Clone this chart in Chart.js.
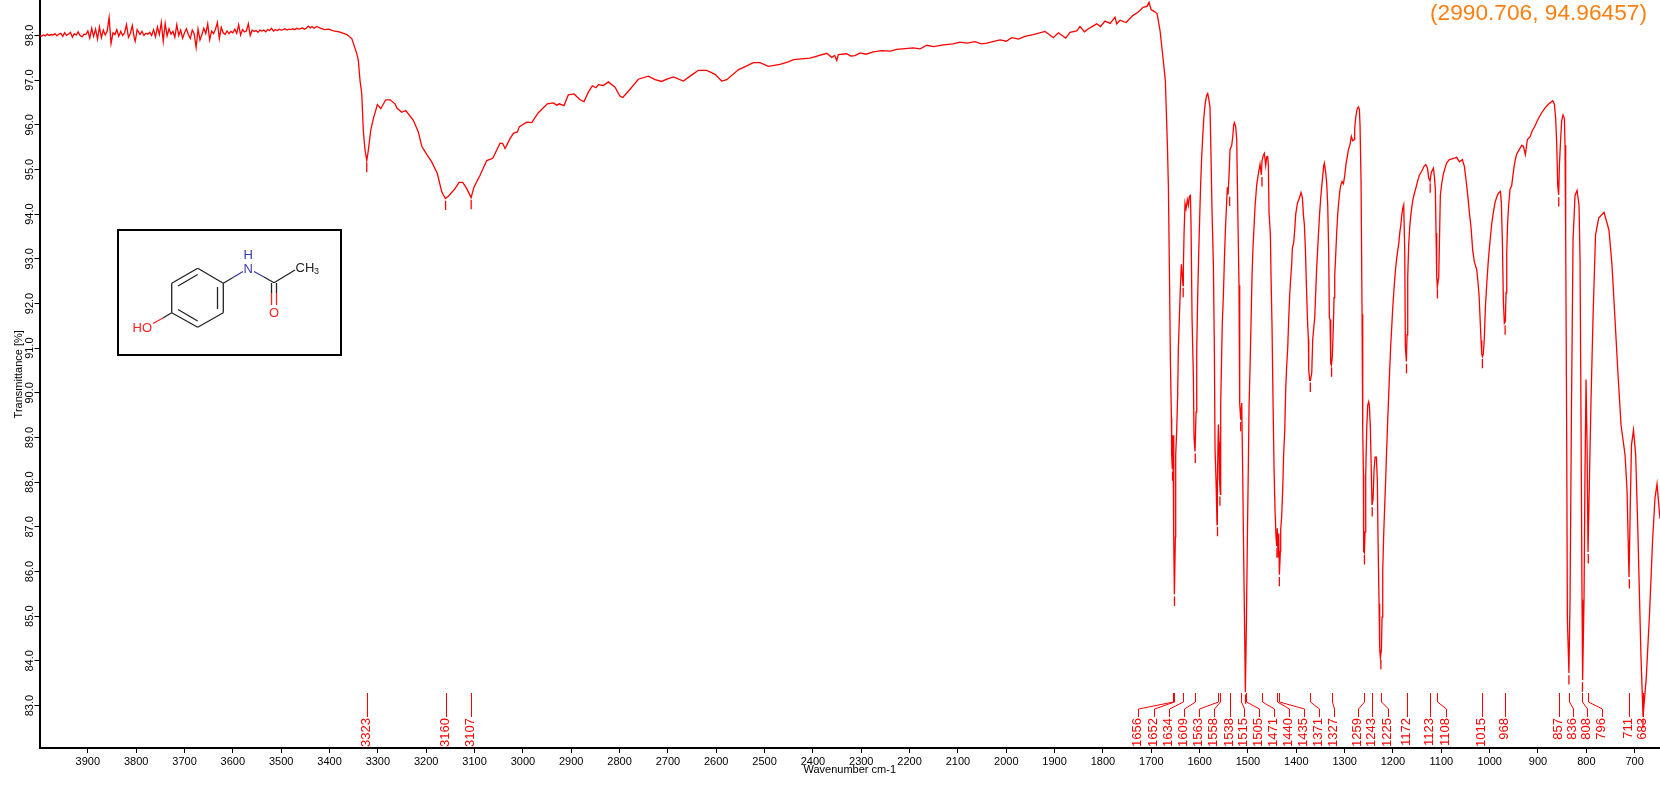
<!DOCTYPE html>
<html>
<head>
<meta charset="utf-8">
<style>html,body{margin:0;padding:0;background:#fff}canvas{display:block}</style>
<script src="https://cdn.jsdelivr.net/npm/chart.js@4"></script>
</head>
<body>
<canvas id="c" width="1660" height="788"></canvas>
<script>
const xTickValues = [3900,3800,3700,3600,3500,3400,3300,3200,3100,3000,2900,2800,2700,2600,2500,2400,2300,2200,2100,2000,1900,1800,1700,1600,1500,1400,1300,1200,1100,1000,900,800,700];
const yTickValues = [83,84,85,86,87,88,89,90,91,92,93,94,95,96,97,98];
const xAxisTitle = "Wavenumber cm-1";
const yAxisTitle = "Transmittance [%]";
const cursorReadout = "(2990.706, 94.96457)";

const noisyRegion = [[4000,98.00],[3996,97.98],[3992,98.01],[3988,97.99],[3984,98.03],[3980,98.00],[3976,98.02],[3972,98.01],[3968,98.04],[3964,97.99],[3960,98.03],[3956,98.05],[3952,97.98],[3948,98.06],[3944,98.00],[3940,98.03],[3936,98.07],[3932,97.96],[3928,98.04],[3924,98.01],[3920,98.08],[3916,98.00],[3912,97.97],[3908,98.03],[3904,98.02],[3900,98.10],[3896,97.94],[3892,98.16],[3888,97.98],[3884,98.14],[3880,97.92],[3876,98.19],[3872,97.95],[3868,98.12],[3864,98.01],[3860,98.10],[3856,98.40],[3852,97.82],[3848,98.06],[3844,98.02],[3840,98.13],[3836,97.98],[3832,98.09],[3828,98.00],[3824,98.06],[3820,98.24],[3816,97.96],[3812,98.05],[3808,98.22],[3804,97.94],[3802,97.87],[3798,98.13],[3792,98.02],[3788,98.09],[3784,98.00],[3780,98.05],[3776,98.03],[3772,98.07],[3768,98.00],[3764,98.13],[3760,97.97],[3756,98.19],[3752,98.02],[3748,98.29],[3744,97.87],[3740,98.27],[3736,97.99],[3732,98.15],[3728,98.03],[3724,98.09],[3720,97.96],[3716,98.24],[3712,98.00],[3708,98.12],[3704,97.94],[3700,98.06],[3696,98.15],[3692,98.02],[3688,97.93],[3684,98.12],[3680,98.04],[3676,97.73],[3672,98.14],[3668,97.90],[3664,98.02],[3660,98.16],[3656,98.04],[3652,98.26],[3648,97.90],[3644,98.10],[3640,98.04],[3636,98.14],[3632,98.29],[3628,97.93],[3624,98.18],[3620,98.06],[3616,98.02],[3612,98.10],[3608,98.04],[3604,98.09],[3600,98.06],[3596,98.14],[3592,98.05],[3588,98.24],[3584,98.01],[3580,98.13],[3576,98.08],[3572,98.10],[3568,98.26],[3564,98.00],[3560,98.12],[3556,98.09],[3552,98.11],[3548,98.07],[3544,98.12],[3540,98.10],[3536,98.12],[3532,98.08],[3528,98.13],[3524,98.11],[3520,98.16],[3516,98.10],[3512,98.13],[3508,98.11],[3504,98.14],[3500,98.12],[3496,98.13],[3492,98.15],[3488,98.12],[3484,98.14],[3480,98.13],[3476,98.15],[3472,98.13],[3468,98.16],[3464,98.14],[3460,98.15],[3456,98.17],[3452,98.14],[3448,98.16],[3444,98.21],[3440,98.17],[3436,98.20],[3432,98.16],[3426,98.20],[3418,98.16],[3410,98.13],[3402,98.14],[3392,98.10],[3380,98.08],[3364,98.02]];

const nhRegion = [[3354,97.93],[3343.7,97.60],[3340.4,97.44],[3336.9,96.99],[3333.4,96.70],[3331.3,96.17],[3330,95.85],[3326.5,95.43],[3323,95.20],[3319.7,95.43],[3314.7,95.88],[3309.3,96.14],[3301,96.45],[3294,96.36],[3283.7,96.56],[3274.8,96.56],[3264.5,96.47],[3261,96.38],[3250.6,96.28],[3242.3,96.32],[3226.6,96.10],[3216.3,95.84],[3209.2,95.52],[3198.9,95.34],[3188.6,95.17],[3177,94.91],[3167.9,94.50],[3160.4,94.35],[3154.2,94.40],[3140.3,94.57],[3132,94.71],[3124.4,94.71],[3116.1,94.57],[3107.2,94.37],[3101,94.61],[3088.6,94.87],[3074.8,95.20],[3062.3,95.25],[3047.2,95.59],[3041.7,95.58],[3036.9,95.47],[3026.6,95.69],[3019.7,95.81],[3011.5,95.84],[3007.3,95.96],[2992,96.06],[2981.7,96.05],[2968,96.27],[2949.4,96.47],[2937,96.49],[2930,96.44],[2924.6,96.47],[2914.9,96.43],[2906,96.67],[2894.2,96.69],[2881.8,96.56],[2873.5,96.52],[2864.6,96.73],[2856.3,96.87],[2848.7,96.83],[2843.9,96.90],[2833.5,96.88],[2823.2,96.96],[2809.4,96.84],[2799,96.64],[2793.4,96.61],[2781.8,96.75],[2761.1,97.02],[2740.5,97.09],[2726.6,97.01],[2712.7,96.97],[2702.4,97.02],[2688.7,97.07],[2668,96.98],[2647.4,97.14],[2637,97.22],[2619.7,97.22],[2602.5,97.13],[2588.6,96.98],[2578.3,97.01]];

const plateauRegion = [[2554.3,97.23],[2523.2,97.39],[2509.4,97.39],[2492.2,97.31],[2468,97.35],[2450.8,97.41],[2440.5,97.46],[2405.9,97.49],[2371.4,97.60],[2361,97.51],[2355,97.55],[2350.7,97.44],[2347.4,97.57],[2330,97.59],[2322,97.54],[2312.9,97.55],[2302.5,97.61],[2290,97.58],[2275,97.63],[2257.6,97.66],[2240,97.65],[2226.6,97.69],[2192.3,97.72],[2178,97.70],[2164.5,97.78],[2150,97.75],[2130.2,97.79],[2110,97.81],[2095.7,97.85],[2081.8,97.83],[2064.6,97.86],[2052,97.81],[2040.4,97.83],[2012.9,97.90],[2000,97.87],[1988.7,97.95],[1975,97.92],[1961.2,97.98],[1944,98.02],[1919.8,98.09],[1902.6,97.95],[1892.3,98.06],[1877,97.94],[1868.1,98.07],[1854.2,98.10],[1847.4,98.20],[1838,98.08],[1830.2,98.15],[1812.9,98.26],[1805,98.20],[1795.7,98.32],[1785,98.27],[1775,98.41],[1771.5,98.26],[1764.7,98.34],[1752.2,98.29],[1737.8,98.45],[1727.4,98.52],[1717.1,98.63],[1708.8,98.65],[1704.6,98.74],[1700.5,98.58],[1694.3,98.54],[1688,98.49],[1681.9,98.11],[1675.7,97.49]];

const fingerprintHigh = [[1670.9,96.99],[1669.5,96.51],[1666.7,95.56],[1664.6,94.60],[1662.6,92.84],[1660.5,90.76],[1658.4,89.45],[1657.8,88.61],[1656.4,88.29],[1655,89.05],[1653.6,86.77],[1652.2,85.49],[1650.2,86.77],[1649.5,88.61],[1647.4,89.17],[1645.4,89.96],[1644,91.0],[1641.9,91.68],[1639.8,92.36],[1637.8,92.88],[1635.7,92.60],[1634.3,92.40],[1633.6,92.80],[1632.2,93.56],[1630.2,94.24],[1628.1,94.12],[1625.3,94.32],[1623.3,94.20],[1621.2,94.40],[1619.1,94.42],[1617.8,93.80],[1615.7,91.68],[1612.9,90.36],[1611.6,89.01],[1609.5,88.69],[1607.4,89.57],[1606,90.96],[1604,92.16],[1601.9,93.12],[1599.8,93.96],[1597.8,94.69],[1595.7,95.28],[1593.6,95.73],[1591.6,96.12],[1589.5,96.37],[1587.4,96.55],[1585.3,96.66],[1583.3,96.70],[1581.2,96.59],[1578.5,96.39],[1576.4,95.28],[1574.3,94.04],[1571.6,92.92],[1569.5,90.96],[1568.1,88.73],[1566,88.01],[1564,87.05],[1563.3,88.01],[1561.2,89.29],[1559.8,88.89],[1559.1,88.09],[1557.1,87.73],[1556.4,89.72],[1555,90.52],[1553,91.60],[1550.9,92.16],[1548.8,92.96],[1546.7,93.64],[1544.7,94.12],[1542.6,94.60],[1541.2,94.44],[1539.1,94.88],[1537.1,95.44],[1533.6,95.54],[1531.6,95.72],[1529.5,96.0],[1528.1,96.05],[1525.4,95.96],[1523.3,95.68],[1520.5,93.72],[1518.5,92.40],[1517.1,89.77],[1515,89.40],[1512.9,89.77],[1510.9,88.21],[1508.8,86.29],[1506.7,84.53],[1505.4,83.30],[1503.3,84.77],[1501.2,86.77],[1499.2,88.38],[1497.8,89.66],[1495.7,90.56],[1493.6,91.60],[1491.6,92.62],[1489.5,93.28],[1487.4,93.72],[1485.4,94.16],[1481.9,94.66],[1478.5,94.90],[1475,95.12],[1472.3,94.88],[1470.9,95.20],[1468.1,95.32],[1466,95.36],[1463.3,95.09],[1461.2,95.28],[1459.2,95.29],[1457.8,95.08],[1456.4,94.04],[1453.6,93.54],[1452.3,92.64],[1450.2,91.47],[1448.1,89.77],[1446,88.29],[1444,87.37],[1441.9,86.77],[1440.5,86.57],[1439.2,86.97],[1437.8,86.33],[1436.4,86.85],[1435,85.93],[1433,86.45],[1432.3,86.93],[1430.2,87.25],[1428.1,87.85],[1426.1,88.65],[1424,89.13],[1421.9,90.09],[1419.9,90.60],[1417.8,91.0],[1415.7,91.66],[1413.6,92.2],[1411.6,92.56],[1409.5,92.88],[1408.1,93.24],[1405.4,93.36],[1403.3,93.64],[1401.2,94.0],[1397.8,94.24],[1393.6,94.36],[1390.2,94.48],[1387.4,94.37],[1385.4,94.0],[1383.3,93.76],[1381.2,93.22],[1379.2,92.46],[1377.1,91.68],[1375,91.2],[1374.3,90.52],[1372.3,90.28],[1370.9,90.28],[1368.1,90.44],[1366,91.2],[1364,91.44],[1361.9,91.68],[1359.9,92.24],[1357.8,92.8],[1355.7,93.24],[1353.7,93.64],[1351.6,94.04],[1349.5,94.36],[1347.5,94.61],[1345.4,94.85],[1343.3,95.08],[1341.9,95.14],[1339.2,94.93],[1337.1,94.69],[1335,94.2],[1333,93.16],[1331.6,91.68]];

const fingerprintMid = [[1330.2,91.64],[1328.8,90.66],[1327.4,90.62],[1325.4,90.83],[1323.3,91.52],[1321.9,92.13],[1320.5,92.63],[1318.5,93.08],[1316.4,93.6],[1314.3,94.0],[1312.3,94.26],[1310.2,94.5],[1308.1,94.64],[1305.4,94.73],[1302.6,94.68],[1299.9,94.85],[1297.1,95.13],[1294.3,95.3],[1292.3,95.44],[1288.8,95.56],[1286.1,95.74],[1283.3,95.64],[1280.6,95.67],[1279.2,95.92],[1277.1,96.16],[1274.3,96.35],[1271.6,96.4],[1269.5,96.35],[1268.1,95.97],[1266,94.7],[1264,91.76],[1262.6,89.2],[1261.2,88.18],[1260.6,86.45],[1259.2,86.42],[1257.8,86.89],[1256.4,88.18],[1254.3,89.2],[1252.3,89.72],[1250.2,89.8],[1248.8,89.72],[1246.8,89.22],[1244.7,88.18],[1243.3,87.49],[1241.2,87.62],[1239.2,88.26],[1237.1,88.56],[1234.3,88.56],[1232.3,88.02],[1230.9,86.72],[1228.8,85.28],[1227.5,84.28],[1226.1,84.07],[1224,84.24],[1222.6,84.98],[1221.2,86.01],[1219.2,86.83],[1217.1,87.48],[1215,88.09],[1213,88.76],[1210.9,89.39],[1208.8,89.96],[1206.8,90.53],[1204.7,91.05],[1202.6,91.47],[1200.6,91.88],[1198.5,92.23],[1196.4,92.54],[1194.4,92.8],[1192.3,93.01],[1190.2,93.19],[1188.1,93.33],[1186.1,93.57],[1184,93.74],[1181.9,93.96],[1179.9,94.13],[1177.8,94.21],[1175.7,93.19],[1174.4,91.05],[1172.3,90.7],[1170.9,91.3],[1169.5,92.59],[1167.5,93.31],[1165.4,93.7],[1163.3,93.96],[1161.3,94.13],[1159.2,94.3],[1156.4,94.44],[1152.3,94.6],[1148.8,94.75],[1145.4,94.87],[1140.6,94.96],[1135.7,95.07],[1132.3,95.11],[1128.8,95.04],[1126.1,94.81],[1123.3,94.74],[1120.6,94.94],[1116.4,95.03],[1114.4,94.85],[1112.3,94.55],[1110.9,93.57],[1109.5,92.59],[1108.2,92.37],[1105.4,92.59],[1104,93.31],[1102,94.43],[1099.2,94.68],[1095.7,94.9],[1092.3,95.03],[1088.8,95.15],[1083.3,95.22],[1076.4,95.24],[1068.2,95.27],[1062.6,95.17],[1056.4,95.22],[1052.3,95.07],[1048.9,94.77],[1045.4,94.43],[1042,94.04],[1038.5,93.7],[1035.1,93.19],[1031.6,92.93],[1026.8,92.76],[1024.7,92.54],[1022,92.2],[1019.9,91.69],[1017.8,91.17],[1016.4,90.87],[1015,90.81],[1013,90.87],[1010.9,91.26],[1008.9,91.9],[1006.1,92.42],[1002.7,92.97],[999.2,93.4],[995.8,93.78],[992.3,94.04],[988.9,94.26],[985.4,94.38],[982,94.47],[977.8,94.51],[975.8,94.26],[973.7,93.4],[971.6,92.05],[969.6,91.56],[967.5,91.6],[966.1,92.24],[964.7,93.14],[962.7,93.83],[960.6,94.21],[957.8,94.56],[954.4,94.64],[951,94.94],[947.5,95.2],[944.1,95.34],[938.5,95.45],[933.7,95.54],[930.2,95.52],[926.1,95.33],[922,95.67],[916.5,95.73],[913,95.84],[906.1,95.98],[899.2,96.14],[892.3,96.27],[885.4,96.38],[878.5,96.46],[869.6,96.54],[866.1,96.46],[863.4,96.14],[861.3,95.58],[859.2,94.64],[857.2,94.43],[855.8,95.07],[853,95.71],[851,96.09],[848.2,96.22],[845.4,96.14],[844.1,95.54],[842.7,93.48],[840.6,88.95],[839.2,84.92]];

const fingerprintLow = [[836,83.73],[833.7,85.37],[830.6,89.84],[827.5,93.42],[823.4,94.42],[819.2,94.53],[815.1,94.2],[813,92.97],[811,89.39],[808.9,85.37],[807.7,83.57],[804.8,85.37],[802.7,88.27],[800.6,90.3],[798.6,88.94],[796.5,86.44],[794.4,87.6],[790.3,89.84],[786.2,91.67],[781,93.53],[774.4,93.91],[763.4,94.04],[753.1,93.64],[746.9,92.86],[740.6,91.63],[734.4,90.4],[728.2,89.28],[719.9,88.61],[715.8,87.82],[711.7,85.88],[708.8,87.64],[706.6,88.83],[702.4,89.17],[697.9,88.61],[693.5,86.95],[687,84.11],[682.7,82.75],[676,83.62],[669.3,85.05],[662.9,86.7],[658,87.64],[653.8,87.96],[647.6,87.18]];

const peakWavenumbers = [3323,3160,3107,1656,1652,1634,1609,1563,1558,1538,1515,1505,1471,1440,1435,1371,1327,1259,1243,1225,1172,1123,1108,1015,968,857,836,808,796,711,683];
const peakTransmittance = [95.2,94.35,94.37,88.29,85.49,92.4,88.69,87.05,87.73,94.44,89.4,83.3,94.88,86.57,85.93,90.28,90.62,86.42,87.49,84.07,90.7,94.74,92.37,90.81,91.56,94.43,83.73,83.57,86.44,85.88,82.75];

// ---- layout only: pixel columns of the peak-label strip, in peak order
const labelColumns = [366.5,445,471,1138,1154,1169,1184,1199,1214,1229,1244,1259,1274,1289,1304,1319,1334,1358,1373,1388,1407,1430,1446,1482,1505,1558,1573,1587,1602,1629,1644];

const spectrum = [...noisyRegion,...nhRegion,...plateauRegion,...fingerprintHigh,...fingerprintMid,...fingerprintLow].map(p=>({x:p[0],y:p[1]}));
const peakTicks = [];
peakWavenumbers.forEach((w,i)=>{
  peakTicks.push({x:w,y:peakTransmittance[i]-0.05},{x:w,y:peakTransmittance[i]-0.26},{x:w,y:null});
});

const FONT = '"Liberation Sans", Arial, sans-serif';

const peakStrip = {
  id:'peakStrip',
  afterDatasetsDraw(chart){
    const c = chart.ctx, xs = chart.scales.x;
    c.save();
    c.strokeStyle='#ff0000'; c.fillStyle='#ff0000'; c.lineWidth=1;
    peakWavenumbers.forEach((w,i)=>{
      const px=Math.round(xs.getPixelForValue(w))+0.5;
      let lx=Math.round(labelColumns[i])+0.5;
      if(Math.abs(px-lx)<=1.5) lx=px;
      c.beginPath(); c.moveTo(px,693);
      if(px!==lx){ c.lineTo(px,702); c.lineTo(lx,709); }
      c.lineTo(lx,717); c.stroke();
      c.save(); c.translate(lx-1,718); c.rotate(-Math.PI/2);
      c.font='13px '+FONT; c.textAlign='right'; c.textBaseline='middle';
      c.fillText(String(w),0,0); c.restore();
    });
    c.restore();
  }
};

const molecule = {
  id:'molecule',
  afterDraw(chart){
    const c=chart.ctx;
    c.save();
    c.strokeStyle='#000'; c.lineWidth=2; c.strokeRect(118,230,223,125);
    const seg=(col,a,b,d,e,w)=>{c.strokeStyle=col;c.lineWidth=w||1.3;c.beginPath();c.moveTo(a,b);c.lineTo(d,e);c.stroke();};
    const K='#222', B='#3a3aa8', R='#ff2020';
    seg(K,171.7,283.3,197.7,268.3); seg(K,197.7,268.3,223.3,283.3); seg(K,223.3,283.3,223.3,312.7);
    seg(K,223.3,312.7,197.7,327.3); seg(K,197.7,327.3,171.7,312.7); seg(K,171.7,312.7,171.7,283.3);
    seg(K,178,286,197.7,274.5); seg(K,217.5,287,217.5,309); seg(K,178,309.5,197.7,321);
    seg(K,223.3,283.3,233,277.5); seg(B,233,277.5,243,271.5);
    seg(B,254,271.5,264,277); seg(K,264,277,274,282.7);
    seg(K,274,282.7,295,270);
    seg(K,271.5,283,271.5,293); seg(K,276.5,283,276.5,293);
    seg(R,271.5,293,271.5,305); seg(R,276.5,293,276.5,305);
    seg(K,171.7,312.7,163,318); seg(R,163,318,153,323.5);
    c.font='13px '+FONT; c.textBaseline='middle';
    c.fillStyle=B; c.textAlign='center'; c.fillText('H',248.3,255); c.fillText('N',248.3,269);
    c.fillStyle=R; c.fillText('O',274,313); c.textAlign='right'; c.fillText('HO',152,328.5);
    c.fillStyle='#222'; c.textAlign='left'; c.fillText('CH',295.5,268.5);
    c.font='9px '+FONT; c.fillText('3',314,272);
    c.fillStyle='#ff7f0e'; c.font='22.7px '+FONT; c.textAlign='left'; c.fillText(cursorReadout,1430,14);
    c.restore();
  }
};

new Chart(document.getElementById('c'),{
  type:'scatter',
  data:{datasets:[
    {label:'Spectrum',data:spectrum,showLine:true,borderColor:'#ff0000',borderWidth:1.3,pointRadius:0,tension:0,spanGaps:false},
    {label:'Peak ticks',data:peakTicks,showLine:true,borderColor:'#ff0000',borderWidth:1.3,pointRadius:0,tension:0,spanGaps:false}
  ]},
  plugins:[peakStrip,molecule],
  options:{
    responsive:false,animation:false,devicePixelRatio:1,
    layout:{padding:0},
    plugins:{legend:{display:false},tooltip:{enabled:false},title:{display:false}},
    scales:{
      x:{
        type:'linear',reverse:true,min:647.6,max:4000,
        afterBuildTicks(s){s.ticks=xTickValues.map(v=>({value:v}));},
        afterFit(s){s.height=40;},
        border:{display:true,color:'#000',width:2},
        grid:{drawOnChartArea:false,drawTicks:true,tickLength:5,tickColor:'#000',tickWidth:1},
        ticks:{color:'#000',font:{family:FONT,size:11},padding:2,maxRotation:0,minRotation:0,autoSkip:false,callback:v=>String(v)},
        title:{display:true,text:xAxisTitle,color:'#000',font:{family:FONT,size:11},padding:{top:0,bottom:11}}
      },
      y:{
        type:'linear',min:82.05,max:98.78,
        afterBuildTicks(s){s.ticks=yTickValues.map(v=>({value:v}));},
        afterFit(s){s.width=39.5;},
        border:{display:true,color:'#000',width:2},
        grid:{drawOnChartArea:false,drawTicks:true,tickLength:5,tickColor:'#000',tickWidth:1},
        ticks:{color:'#000',font:{family:FONT,size:11},padding:-6,minRotation:90,maxRotation:90,crossAlign:'center',autoSkip:false,callback:v=>Number(v).toFixed(1)},
        title:{display:true,text:yAxisTitle,color:'#000',font:{family:FONT,size:11},padding:{top:12,bottom:0}}
      }
    }
  }
});
</script>
</body>
</html>
